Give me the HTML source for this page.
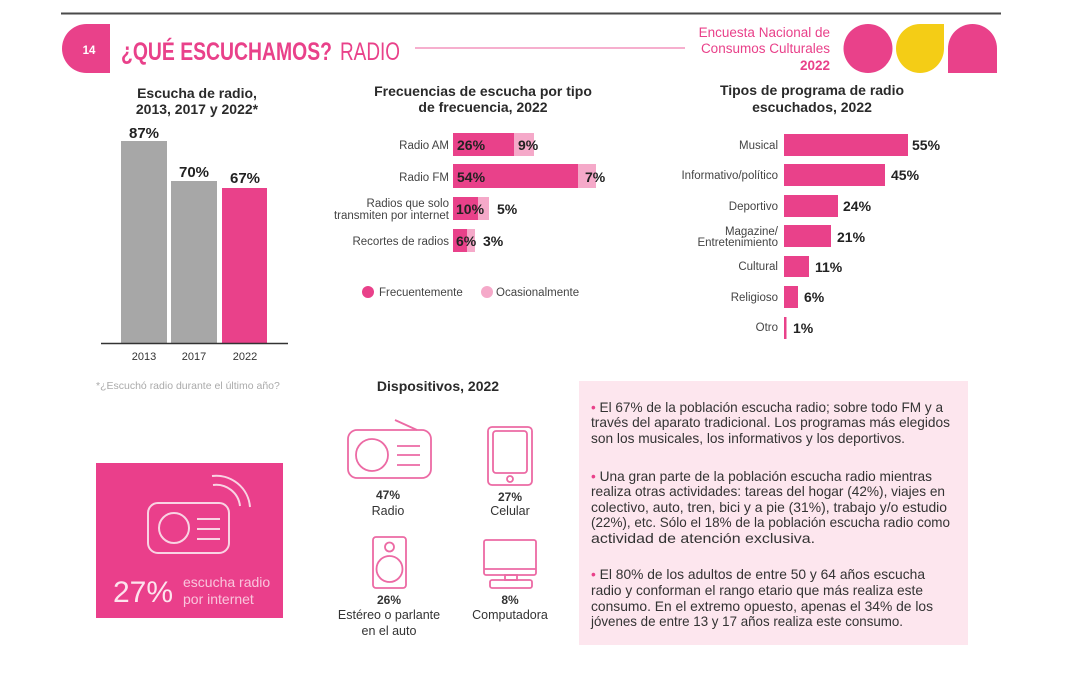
<!DOCTYPE html>
<html><head><meta charset="utf-8"><style>
html,body{margin:0;padding:0;background:#fff;}
svg{display:block;font-family:"Liberation Sans",sans-serif;}
</style></head><body>
<svg width="1080" height="675" viewBox="0 0 1080 675" xmlns="http://www.w3.org/2000/svg">
<rect width="1080" height="675" fill="#fff"/>
<!-- header -->
<line x1="61" y1="13.5" x2="1001" y2="13.5" stroke="#4a4a4a" stroke-width="2"/>
<path d="M110,24 H86.5 A24.5,24.5 0 0 0 86.5,73 H110 Z" fill="#e9418a"/>
<text x="89" y="54" font-size="11.5" font-weight="bold" fill="#fff" text-anchor="middle">14</text>
<text x="121" y="60" font-size="25" font-weight="bold" fill="#e9418a" textLength="211" lengthAdjust="spacingAndGlyphs">¿QUÉ ESCUCHAMOS?</text>
<text x="340" y="60" font-size="25" fill="#e9418a" textLength="60" lengthAdjust="spacingAndGlyphs">RADIO</text>
<line x1="415" y1="48" x2="685" y2="48" stroke="#f07fb0" stroke-width="1.3"/>
<text x="830" y="37" font-size="13.5" fill="#e9418a" text-anchor="end">Encuesta Nacional de</text>
<text x="830" y="53" font-size="13.5" fill="#e9418a" text-anchor="end">Consumos Culturales</text>
<text x="830" y="70" font-size="13.5" font-weight="bold" fill="#e9418a" text-anchor="end">2022</text>
<circle cx="868" cy="48.5" r="24.5" fill="#e9418a"/>
<path d="M944,24 V48.5 A24,24.5 0 1 1 920,24 Z" fill="#f4cd16"/>
<path d="M948,73 V48.5 A24.5,24.5 0 0 1 997,48.5 V73 Z" fill="#e9418a"/>

<!-- left chart -->
<text x="197" y="98" font-size="14" font-weight="bold" fill="#2a2a2a" text-anchor="middle">Escucha de radio,</text>
<text x="197" y="114" font-size="14" font-weight="bold" fill="#2a2a2a" text-anchor="middle">2013, 2017 y 2022*</text>
<rect x="121" y="141" width="46" height="202" fill="#a7a7a7"/>
<rect x="171" y="181" width="46" height="162" fill="#a7a7a7"/>
<rect x="222" y="188" width="45" height="155" fill="#e9418a"/>
<line x1="101" y1="343.5" x2="288" y2="343.5" stroke="#333" stroke-width="1.5"/>
<text x="144" y="138" font-size="15" font-weight="bold" fill="#222" text-anchor="middle">87%</text>
<text x="194" y="177" font-size="15" font-weight="bold" fill="#222" text-anchor="middle">70%</text>
<text x="245" y="183" font-size="15" font-weight="bold" fill="#222" text-anchor="middle">67%</text>
<text x="144" y="360" font-size="11" fill="#333" text-anchor="middle">2013</text>
<text x="194" y="360" font-size="11" fill="#333" text-anchor="middle">2017</text>
<text x="245" y="360" font-size="11" fill="#333" text-anchor="middle">2022</text>
<text x="96" y="389" font-size="10.5" fill="#aaa">*¿Escuchó radio durante el último año?</text>

<!-- middle chart -->
<text x="483" y="96" font-size="14" font-weight="bold" fill="#2a2a2a" text-anchor="middle">Frecuencias de escucha por tipo</text>
<text x="483" y="112" font-size="14" font-weight="bold" fill="#2a2a2a" text-anchor="middle">de frecuencia, 2022</text>
<rect x="453" y="133" width="81" height="23" fill="#f5a9c9"/>
<rect x="453" y="133" width="61" height="23" fill="#e9418a"/>
<rect x="453" y="164" width="143" height="24" fill="#f5a9c9"/>
<rect x="453" y="164" width="125" height="24" fill="#e9418a"/>
<rect x="453" y="197" width="36" height="23" fill="#f5a9c9"/>
<rect x="453" y="197" width="25" height="23" fill="#e9418a"/>
<rect x="453" y="229" width="22" height="23" fill="#f5a9c9"/>
<rect x="453" y="229" width="14" height="23" fill="#e9418a"/>
<g font-size="11.5" fill="#444" text-anchor="end">
<text x="449" y="149">Radio AM</text>
<text x="449" y="181">Radio FM</text>
<text x="449" y="207">Radios que solo</text>
<text x="449" y="219">transmiten por internet</text>
<text x="449" y="245">Recortes de radios</text>
</g>
<g font-size="14" font-weight="bold" fill="#222">
<text x="457" y="150">26%</text>
<text x="518" y="150">9%</text>
<text x="457" y="182">54%</text>
<text x="585" y="182">7%</text>
<text x="456" y="214">10%</text>
<text x="497" y="214">5%</text>
<text x="456" y="246">6%</text>
<text x="483" y="246">3%</text>
</g>
<circle cx="368" cy="292" r="6" fill="#e9418a"/>
<text x="379" y="296" font-size="11.5" fill="#444">Frecuentemente</text>
<circle cx="487" cy="292" r="6" fill="#f5a9c9"/>
<text x="496" y="296" font-size="11.5" fill="#444">Ocasionalmente</text>

<!-- right chart -->
<text x="812" y="95" font-size="14" font-weight="bold" fill="#2a2a2a" text-anchor="middle">Tipos de programa de radio</text>
<text x="812" y="112" font-size="14" font-weight="bold" fill="#2a2a2a" text-anchor="middle">escuchados, 2022</text>
<g fill="#e9418a">
<rect x="784" y="134" width="124" height="22"/>
<rect x="784" y="164" width="101" height="22"/>
<rect x="784" y="195" width="54" height="22"/>
<rect x="784" y="225" width="47" height="22"/>
<rect x="784" y="256" width="25" height="21"/>
<rect x="784" y="286" width="14" height="22"/>
<rect x="784" y="317" width="2.5" height="22"/>
</g>
<g font-size="11.5" fill="#444" text-anchor="end">
<text x="778" y="149">Musical</text>
<text x="778" y="179">Informativo/político</text>
<text x="778" y="210">Deportivo</text>
<text x="778" y="235">Magazine/</text>
<text x="778" y="246">Entretenimiento</text>
<text x="778" y="270">Cultural</text>
<text x="778" y="301">Religioso</text>
<text x="778" y="331">Otro</text>
</g>
<g font-size="14" font-weight="bold" fill="#222">
<text x="912" y="150">55%</text>
<text x="891" y="180">45%</text>
<text x="843" y="211">24%</text>
<text x="837" y="242">21%</text>
<text x="815" y="272">11%</text>
<text x="804" y="302">6%</text>
<text x="793" y="333">1%</text>
</g>

<!-- pink box -->
<rect x="96" y="463" width="187" height="155" fill="#ea3f8b"/>
<g fill="none" stroke="#f9d3e3" stroke-width="2">
<rect x="148" y="503" width="81" height="50" rx="10"/>
<circle cx="174" cy="528" r="15"/>
<line x1="197" y1="519" x2="220" y2="519"/>
<line x1="197" y1="529" x2="220" y2="529"/>
<line x1="197" y1="539" x2="220" y2="539"/>
<path d="M213,485 A24,24 0 0 1 240,506"/>
<path d="M212,476 A34,34 0 0 1 250,507"/>
</g>
<text x="113" y="602" font-size="30" fill="#fde4ee">27%</text>
<text x="183" y="587" font-size="14" fill="#f9c5dc">escucha radio</text>
<text x="183" y="604" font-size="14" fill="#f9c5dc">por internet</text>

<!-- devices -->
<text x="438" y="391" font-size="14" font-weight="bold" fill="#2a2a2a" text-anchor="middle">Dispositivos, 2022</text>
<g fill="none" stroke="#ec6aa4" stroke-width="1.8">
<rect x="348" y="430" width="83" height="48" rx="9"/>
<line x1="395" y1="420" x2="417" y2="430"/>
<circle cx="372" cy="455" r="16"/>
<line x1="397" y1="446" x2="420" y2="446"/>
<line x1="397" y1="455" x2="420" y2="455"/>
<line x1="397" y1="465" x2="420" y2="465"/>
<rect x="488" y="427" width="44" height="58" rx="4"/>
<rect x="493" y="431" width="34" height="42" rx="3"/>
<circle cx="510" cy="479" r="3"/>
<rect x="373" y="537" width="33" height="51" rx="3"/>
<circle cx="389.5" cy="547" r="4.5"/>
<circle cx="389.5" cy="569" r="13"/>
<rect x="484" y="540" width="52" height="35" rx="2"/>
<line x1="484" y1="569" x2="536" y2="569"/>
<rect x="505" y="575" width="12" height="5"/>
<rect x="490" y="580" width="42" height="8" rx="2"/>
</g>
<g font-size="12.5" fill="#333" text-anchor="middle">
<text x="388" y="499" font-weight="bold" font-size="12">47%</text>
<text x="388" y="515">Radio</text>
<text x="510" y="501" font-weight="bold" font-size="12">27%</text>
<text x="510" y="515">Celular</text>
<text x="389" y="604" font-weight="bold" font-size="12">26%</text>
<text x="389" y="619">Estéreo o parlante</text>
<text x="389" y="635">en el auto</text>
<text x="510" y="604" font-weight="bold" font-size="12">8%</text>
<text x="510" y="619">Computadora</text>
</g>

<!-- text box -->
<rect x="579" y="381" width="389" height="264" fill="#fde6ee"/>
<g font-size="14" fill="#333">
<text x="591" y="412" textLength="352" lengthAdjust="spacingAndGlyphs"><tspan fill="#e9418a">•</tspan> El 67% de la población escucha radio; sobre todo FM y a</text>
<text x="591" y="427" textLength="359" lengthAdjust="spacingAndGlyphs">través del aparato tradicional. Los programas más elegidos</text>
<text x="591" y="443" textLength="314" lengthAdjust="spacingAndGlyphs">son los musicales, los informativos y los deportivos.</text>
<text x="591" y="481" textLength="341" lengthAdjust="spacingAndGlyphs"><tspan fill="#e9418a">•</tspan> Una gran parte de la población escucha radio mientras</text>
<text x="591" y="496" textLength="354" lengthAdjust="spacingAndGlyphs">realiza otras actividades: tareas del hogar (42%), viajes en</text>
<text x="591" y="512" textLength="356" lengthAdjust="spacingAndGlyphs">colectivo, auto, tren, bici y a pie (31%), trabajo y/o estudio</text>
<text x="591" y="527" textLength="359" lengthAdjust="spacingAndGlyphs">(22%), etc. Sólo el 18% de la población escucha radio como</text>
<text x="591" y="543" textLength="224" lengthAdjust="spacingAndGlyphs">actividad de atención exclusiva.</text>
<text x="591" y="579" textLength="334" lengthAdjust="spacingAndGlyphs"><tspan fill="#e9418a">•</tspan> El 80% de los adultos de entre 50 y 64 años escucha</text>
<text x="591" y="595" textLength="332" lengthAdjust="spacingAndGlyphs">radio y conforman el rango etario que más realiza este</text>
<text x="591" y="611" textLength="342" lengthAdjust="spacingAndGlyphs">consumo. En el extremo opuesto, apenas el 34% de los</text>
<text x="591" y="626" textLength="312" lengthAdjust="spacingAndGlyphs">jóvenes de entre 13 y 17 años realiza este consumo.</text>
</g>
</svg>
</body></html>
